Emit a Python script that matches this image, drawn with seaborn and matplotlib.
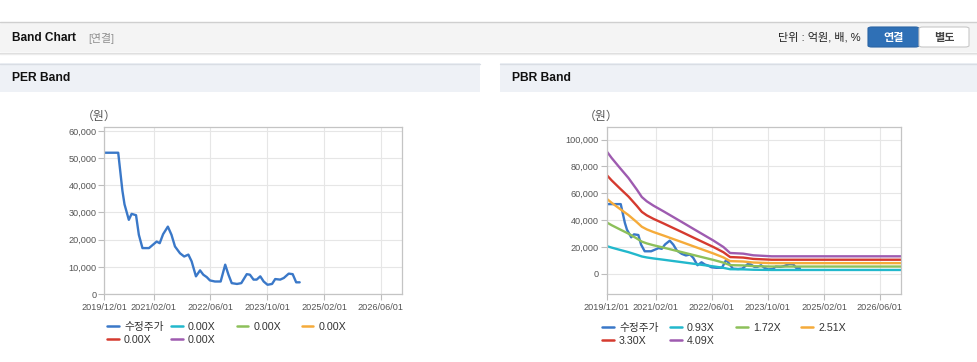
import numpy as np
import pandas as pd
import matplotlib
matplotlib.use("Agg")
import matplotlib.pyplot as plt
import matplotlib.dates as mdates
from matplotlib.patches import Rectangle, FancyBboxPatch
from matplotlib.lines import Line2D
from matplotlib.legend import Legend
from matplotlib.ticker import FuncFormatter
import seaborn as sns

# ---------------- data ----------------
price_dates = ["2019-12-01", "2020-04-01", "2020-05-07", "2020-05-25", "2020-07-01",
               "2020-07-25", "2020-09-01", "2020-09-25", "2020-10-26", "2020-12-21",
               "2021-02-25", "2021-03-23", "2021-04-21", "2021-06-01", "2021-07-02",
               "2021-08-01", "2021-09-13", "2021-10-19", "2021-11-24", "2021-12-22",
               "2022-01-28", "2022-03-04", "2022-04-01", "2022-05-01", "2022-05-28",
               "2022-07-10", "2022-08-28", "2022-10-06", "2022-11-03", "2022-12-01",
               "2023-01-15", "2023-02-21", "2023-04-09", "2023-05-06", "2023-06-06",
               "2023-07-03", "2023-08-03", "2023-09-01", "2023-10-04", "2023-11-12",
               "2023-12-09", "2024-01-21", "2024-02-21", "2024-04-03", "2024-05-07",
               "2024-06-06", "2024-07-06"]
price_values = [52000, 52000, 38000, 33000, 27300,
                29500, 29000, 21800, 16900, 16900,
                19300, 18700, 22000, 24800, 21800,
                17500, 15000, 13800, 14500, 12000,
                6500, 8700, 7100, 6200, 5000,
                4600, 4600, 10800, 7100, 4000,
                3700, 4000, 7300, 7100, 5300,
                5300, 6500, 4600, 3400, 3700,
                5500, 5300, 5900, 7500, 7300,
                4300, 4300]

bps_dates = ["2019-12-01", "2020-01-13", "2020-03-25", "2020-06-07", "2020-08-19",
             "2020-10-01", "2020-11-13", "2021-01-10", "2021-04-07", "2021-07-01",
             "2021-09-28", "2021-12-25", "2022-03-19", "2022-06-16", "2022-09-10",
             "2022-11-07", "2023-03-01", "2023-05-28", "2023-11-04", "2026-12-01"]
bps_values = [22320, 21110, 19290, 17470, 15350,
              14010, 13230, 12440, 11410, 10370,
              9280, 8190, 7160, 6070, 4910,
              3820, 3700, 3400, 3215, 3215]

pbr_multiples = [0.93, 1.72, 2.51, 3.30, 4.09]
pbr_labels = ["0.93X", "1.72X", "2.51X", "3.30X", "4.09X"]
per_labels = ["0.00X", "0.00X", "0.00X", "0.00X", "0.00X"]
price_label = "수정주가"

price_color = "#3a78c8"
band_colors = ["#22b8cc", "#8dc05a", "#f5ab3a", "#d53a2f", "#9e5bb0"]

x_tick_dates = ["2019-12-01", "2021-02-01", "2022-06-01", "2023-10-01", "2025-02-01", "2026-06-01"]
x_range = ["2019-12-01", "2026-12-01"]
per_yticks = [0, 10000, 20000, 30000, 40000, 50000, 60000]
pbr_yticks = [0, 20000, 40000, 60000, 80000, 100000]
per_ylim = (0, 61470)
pbr_ylim = (-14900, 109400)

# ---------------- style ----------------
sns.set_style("white")
plt.rcParams["font.family"] = ["Liberation Sans", "Noto Sans CJK KR"]

W, H = 978, 362
fig = plt.figure(figsize=(W / 100, H / 100), dpi=100)
fig.patch.set_facecolor("white")


def fx(x):
    return x / W


def fy(y):
    return 1 - y / H


def rect(x0, y0, x1, y1, **kw):
    fig.add_artist(Rectangle((fx(x0), fy(y1)), (x1 - x0) / W, (y1 - y0) / H,
                             transform=fig.transFigure, **kw))


def hline(x0, x1, y, color, lw=1.0):
    fig.add_artist(Line2D([fx(x0), fx(x1)], [fy(y), fy(y)], transform=fig.transFigure,
                          color=color, lw=lw))


# top header bar
rect(0, 22, 978, 52, facecolor="#f4f4f4", edgecolor="none")
hline(0, 978, 22, "#cfcfcf", 1.0)
hline(0, 978, 52.5, "#dcdcdc", 1.0)
hline(0, 978, 53.5, "#ececec", 1.0)
fig.text(fx(12), fy(38), "Band Chart", fontsize=8.6, fontweight="bold", color="#111111",
         va="center", ha="left")
fig.text(fx(88), fy(38), "[연결]", fontsize=7.8, color="#8e8e8e", va="center", ha="left")
fig.text(fx(861), fy(37.5), "단위 : 억원, 배, %", fontsize=8.0, color="#222222",
         va="center", ha="right")
# buttons
fig.add_artist(FancyBboxPatch((fx(868), fy(47)), 51 / W, 20 / H,
                              boxstyle="round,pad=0,rounding_size=0.004",
                              transform=fig.transFigure, facecolor="#2f70b6",
                              edgecolor="#2a64a4", lw=0.8))
fig.add_artist(FancyBboxPatch((fx(919), fy(47)), 50 / W, 20 / H,
                              boxstyle="round,pad=0,rounding_size=0.004",
                              transform=fig.transFigure, facecolor="#ffffff",
                              edgecolor="#c8c8c8", lw=0.8))
fig.text(fx(893.5), fy(37.5), "연결", fontsize=8.0, fontweight="bold", color="white",
         va="center", ha="center")
fig.text(fx(944), fy(37.5), "별도", fontsize=8.0, fontweight="bold", color="#444444",
         va="center", ha="center")

# panel headers
for x0, x1, title in [(0, 480, "PER Band"), (500, 978, "PBR Band")]:
    rect(x0, 63, x1, 92, facecolor="#eef1f6", edgecolor="none")
    hline(x0, x1, 63.5, "#d9dde4", 1.0)
    fig.text(fx(x0 + 12), fy(78), title, fontsize=8.7, fontweight="bold", color="#111111",
             va="center", ha="left")

# ---------------- axes ----------------
ax1 = fig.add_axes([fx(104), fy(294), 298 / W, 167 / H])
ax2 = fig.add_axes([fx(606.7), fy(294), 294.3 / W, 167 / H])

pdates = pd.to_datetime(price_dates)
bdates = pd.to_datetime(bps_dates)

# PER panel: only price visible
sns.lineplot(x=pdates, y=price_values, ax=ax1, color=price_color, lw=1.7)

# PBR panel: bands and price
rows = []
for m, lab in zip(pbr_multiples, pbr_labels):
    for d, b in zip(bdates, bps_values):
        rows.append({"date": d, "value": b * m, "band": lab})
band_df = pd.DataFrame(rows)
sns.lineplot(x=pdates, y=price_values, ax=ax2, color=price_color, lw=1.7)
sns.lineplot(data=band_df, x="date", y="value", hue="band",
             palette=dict(zip(pbr_labels, band_colors)), ax=ax2, legend=False, lw=1.7)

fmt = FuncFormatter(lambda v, p: f"{int(v):,}")
for ax, yt, yl in [(ax1, per_yticks, per_ylim), (ax2, pbr_yticks, pbr_ylim)]:
    ax.set_xlim(pd.to_datetime(x_range[0]), pd.to_datetime(x_range[1]))
    ax.set_ylim(*yl)
    ax.set_xticks(pd.to_datetime(x_tick_dates))
    ax.xaxis.set_major_formatter(mdates.DateFormatter("%Y/%m/%d"))
    ax.set_yticks(yt)
    ax.yaxis.set_major_formatter(fmt)
    ax.set_xlabel("")
    ax.set_ylabel("")
    ax.grid(True, color="#e6e6e6", lw=0.8)
    ax.set_axisbelow(True)
    for s in ax.spines.values():
        s.set_visible(True)
        s.set_color("#c4c4c4")
        s.set_linewidth(0.9)
    ax.tick_params(axis="both", labelsize=6.6, labelcolor="#555555", color="#bdbdbd",
                   length=4, width=0.8, direction="out")
    ax.tick_params(axis="y", pad=1.5, left=True)
    ax.tick_params(axis="x", pad=2.5, bottom=True)
    ax.set_facecolor("white")

fig.text(fx(99), fy(117), "（원）", fontsize=8.6, color="#555555", va="center", ha="center")
fig.text(fx(601), fy(117), "（원）", fontsize=8.6, color="#555555", va="center", ha="center")


# ---------------- legends ----------------
def column_legend(ax, entries, x, y_top):
    handles = [Line2D([], [], color=c, lw=1.8) for _, c in entries]
    labels = [l for l, _ in entries]
    leg = Legend(ax, handles, labels, loc="upper left",
                 bbox_to_anchor=(fx(x), fy(y_top)), bbox_transform=fig.transFigure,
                 frameon=False, fontsize=7.7, handlelength=1.1, handletextpad=0.5,
                 borderpad=0, borderaxespad=0, labelspacing=0.28, labelcolor="#333333")
    ax.add_artist(leg)
    return leg


for ax, labels, xs, ytop in [(ax1, per_labels, [107, 171, 236.7, 301.7], 322),
                              (ax2, pbr_labels, [602, 670, 736, 801], 323)]:
    entries = [(price_label, price_color)] + list(zip(labels, band_colors))
    cols = [[entries[0], entries[4]], [entries[1], entries[5]], [entries[2]], [entries[3]]]
    for cx, ce in zip(xs, cols):
        column_legend(ax, ce, cx, ytop)

fig.savefig("out.png", dpi=100, facecolor="white")
